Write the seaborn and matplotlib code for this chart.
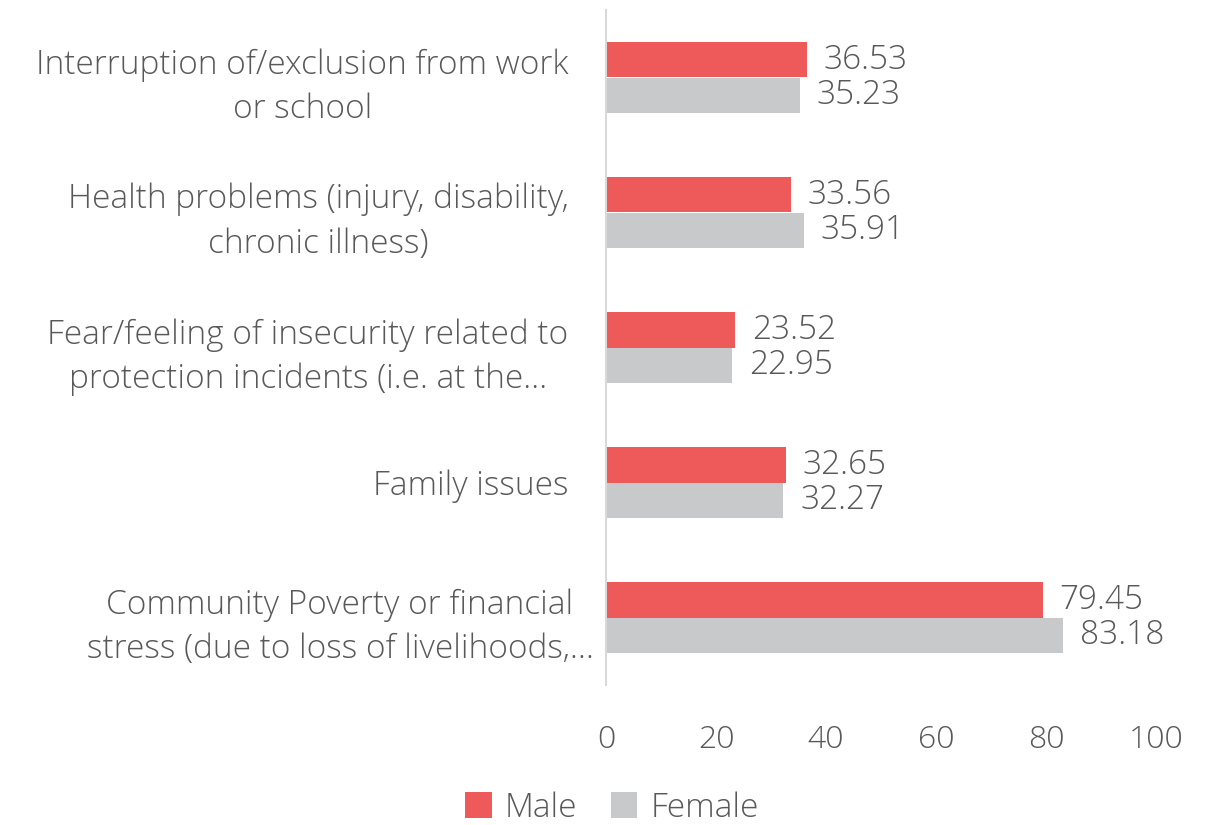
import matplotlib
matplotlib.use("Agg")
import matplotlib.pyplot as plt
import matplotlib.transforms as mtransforms
import seaborn as sns
import pandas as pd
from matplotlib.patches import Patch

categories = [
    "Interruption of/exclusion from work\nor school",
    "Health problems (injury, disability,\nchronic illness)",
    "Fear/feeling of insecurity related to\nprotection incidents (i.e. at the…",
    "Family issues",
    "Community Poverty or financial\nstress (due to loss of livelihoods,…",
]
male = [36.53, 33.56, 23.52, 32.65, 79.45]
female = [35.23, 35.91, 22.95, 32.27, 83.18]
series = ["Male", "Female"]
colors = {"Male": "#EE5A5A", "Female": "#C8C9CB"}
x_ticks = [0, 20, 40, 60, 80, 100]

sns.set_theme(style="white")
plt.rcParams["font.family"] = ["Open Sans", "DejaVu Sans"]
text_color = "#595959"

df = pd.DataFrame({
    "category": categories * 2,
    "value": male + female,
    "sex": ["Male"] * len(categories) + ["Female"] * len(categories),
})

fig = plt.figure(figsize=(12.06, 8.25), dpi=100)
ax = fig.add_axes([606 / 1206, 1 - 685 / 825, 550 / 1206, 675 / 825])

sns.barplot(data=df, y="category", x="value", hue="sex", hue_order=series,
            order=categories, palette=colors, orient="h", width=0.52,
            dodge=True, saturation=1, legend=False, ax=ax, linewidth=0)

for container in ax.containers:
    ax.bar_label(container, labels=[f"{v:.2f}" for v in container.datavalues],
                 padding=12, fontsize=24, color=text_color, fontweight="light")

ax.set_xlim(0, 100)
ax.set_ylim(len(categories) - 0.5, -0.5)
ax.set_xticks(x_ticks)
ax.set_xticklabels([str(t) for t in x_ticks])
ax.tick_params(axis="x", length=0, pad=28, labelsize=23, labelcolor=text_color)
ax.tick_params(axis="y", length=0, pad=27, labelsize=24, labelcolor=text_color)
ylabels = ax.get_yticklabels()
for lbl in ylabels:
    lbl.set_multialignment("center")
    lbl.set_fontweight("light")
    lbl.set_linespacing(1.45)
# the last category sits slightly further right
ylabels[-1].set_transform(ylabels[-1].get_transform() +
                          mtransforms.ScaledTranslation(0.25, 0, fig.dpi_scale_trans))
for lbl in ax.get_xticklabels():
    lbl.set_fontweight("light")
ax.set_xlabel("")
ax.set_ylabel("")

for side in ["top", "right", "bottom"]:
    ax.spines[side].set_visible(False)
ax.spines["left"].set_color("#D9D9D9")
ax.spines["left"].set_linewidth(1.5)

handles = [Patch(facecolor=colors[s], edgecolor="none") for s in series]
leg = fig.legend(handles, series, loc="center", bbox_to_anchor=(612 / 1206, 1 - 808 / 825),
                 ncol=2, frameon=False, fontsize=24, handlelength=0.8, handleheight=0.8,
                 handletextpad=0.4, columnspacing=1.0)
for t in leg.get_texts():
    t.set_color(text_color)
    t.set_fontweight("light")

fig.savefig("out.png", dpi=100)
